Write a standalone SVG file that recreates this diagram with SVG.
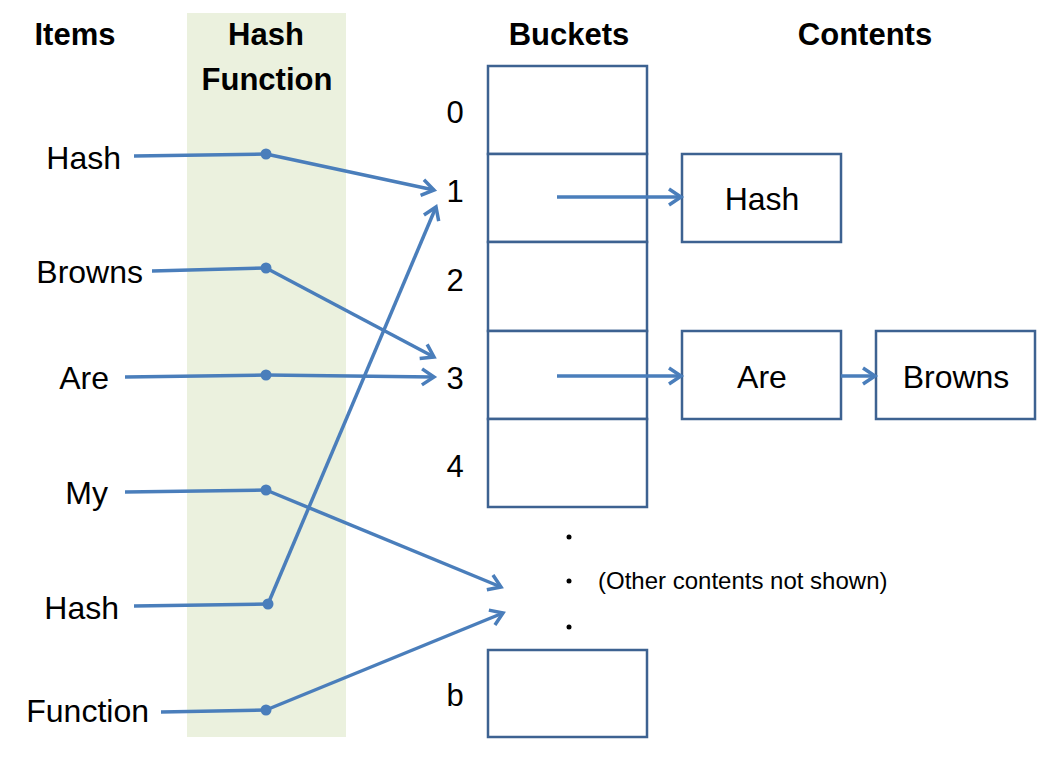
<svg xmlns="http://www.w3.org/2000/svg" width="1042" height="763" viewBox="0 0 1042 763">
<style>
text{font-family:"Liberation Sans",Arial,sans-serif;fill:#000}
.h{font-weight:bold;font-size:31px;text-anchor:middle}
.it{font-size:32px;text-anchor:end}
.ct{font-size:32px;text-anchor:middle}
.num{font-size:31px;text-anchor:middle}
.box{fill:#fff;stroke:#3d6291;stroke-width:2.5}
.ln{fill:none;stroke:#4a7ebb;stroke-width:3.5}
.ar{marker-end:url(#arr)}
.dot{fill:#4a7ebb}
</style>
<defs>
<marker id="arr" markerUnits="userSpaceOnUse" markerWidth="22" markerHeight="22" viewBox="0 0 22 22" refX="18" refY="11" orient="auto">
<path d="M6,3 L18,11 L6,19" fill="none" stroke="#4a7ebb" stroke-width="3.5"/>
</marker>
</defs>
<rect x="187" y="13" width="159" height="724" fill="#ebf1de"/>
<g id="headers">
<text class="h" x="75" y="45">Items</text>
<text class="h" x="266" y="45">Hash</text>
<text class="h" x="267" y="90">Function</text>
<text class="h" x="569" y="45">Buckets</text>
<text class="h" x="865" y="45">Contents</text>
</g>
<g id="items">
<text class="it" x="121" y="169">Hash</text>
<text class="it" x="143" y="283">Browns</text>
<text class="it" x="109" y="389">Are</text>
<text class="it" x="108" y="504">My</text>
<text class="it" x="119" y="619">Hash</text>
<text class="it" x="149" y="722">Function</text>
</g>
<g id="buckets">
<rect class="box" x="488" y="66" width="159" height="88"/>
<rect class="box" x="488" y="154" width="159" height="88"/>
<rect class="box" x="488" y="242" width="159" height="89"/>
<rect class="box" x="488" y="331" width="159" height="88"/>
<rect class="box" x="488" y="419" width="159" height="88"/>
<rect class="box" x="488" y="650" width="159" height="87"/>
<text class="num" x="455" y="123">0</text>
<text class="num" x="455" y="202">1</text>
<text class="num" x="455" y="291">2</text>
<text class="num" x="455" y="389">3</text>
<text class="num" x="455" y="477">4</text>
<text class="num" x="455" y="706">b</text>
<circle cx="569" cy="537" r="2.5" fill="#000"/>
<circle cx="569" cy="581" r="2.5" fill="#000"/>
<circle cx="569" cy="627" r="2.5" fill="#000"/>
<text x="598" y="589" font-size="24">(Other contents not shown)</text>
</g>
<g id="content-hash">
<rect class="box" x="682" y="154" width="159" height="88"/>
<text class="ct" x="762" y="210">Hash</text>
</g>
<g id="content-are">
<rect class="box" x="682" y="331" width="159" height="88"/>
<text class="ct" x="762" y="388">Are</text>
</g>
<g id="content-browns">
<rect class="box" x="876" y="331" width="159" height="88"/>
<text class="ct" x="956" y="388">Browns</text>
</g>
<g id="connectors">
<polyline class="ln" points="134,156 266,154"/>
<line class="ln ar" x1="266" y1="154" x2="434" y2="190"/>
<polyline class="ln" points="152,271 266,268"/>
<line class="ln ar" x1="266" y1="268" x2="434" y2="357"/>
<polyline class="ln" points="125,377 266,375"/>
<line class="ln ar" x1="266" y1="375" x2="434" y2="377"/>
<polyline class="ln" points="125,492 266,490"/>
<line class="ln ar" x1="266" y1="490" x2="501" y2="587"/>
<polyline class="ln" points="134,606 268,604"/>
<line class="ln ar" x1="268" y1="604" x2="436" y2="207"/>
<polyline class="ln" points="161,712 266,710"/>
<line class="ln ar" x1="266" y1="710" x2="503" y2="613"/>
<circle class="dot" cx="266" cy="154" r="5.5"/>
<circle class="dot" cx="266" cy="268" r="5.5"/>
<circle class="dot" cx="266" cy="375" r="5.5"/>
<circle class="dot" cx="266" cy="490" r="5.5"/>
<circle class="dot" cx="268" cy="604" r="5.5"/>
<circle class="dot" cx="266" cy="710" r="5.5"/>
<line class="ln ar" x1="557" y1="197" x2="681" y2="197"/>
<line class="ln ar" x1="557" y1="376" x2="681" y2="376"/>
<line class="ln ar" x1="841" y1="376" x2="875" y2="376"/>
</g>
</svg>
